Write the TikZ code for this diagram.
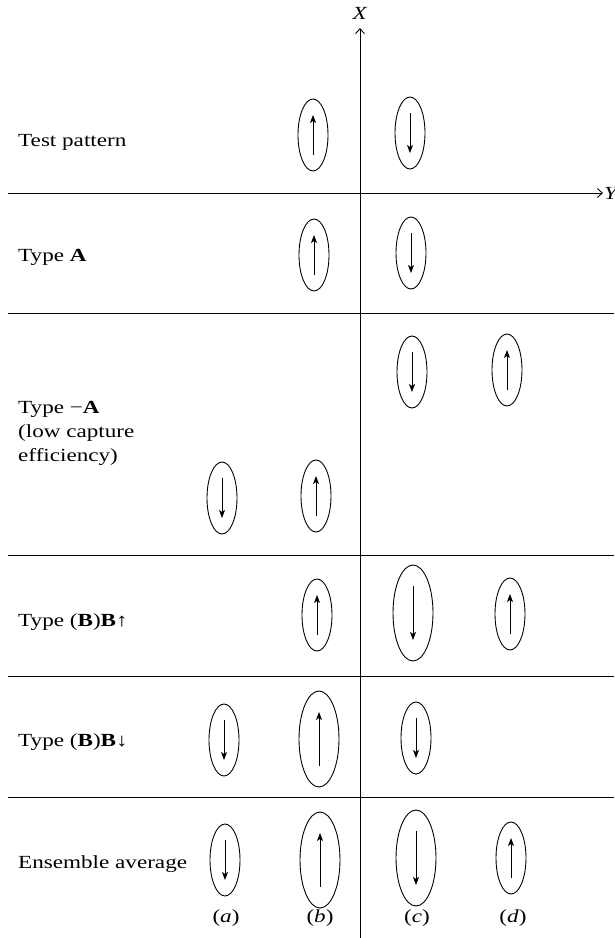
\documentclass[tikz,border=0pt]{standalone}
\usepackage{fontspec}
\setmainfont[FakeStretch=1.25]{Liberation Serif}
\usetikzlibrary{shapes.geometric,arrows.meta}
\begin{document}
\begin{tikzpicture}[x=1pt,y=-1pt,
  every node/.style={font=\fontsize{18.5}{24}\selectfont},
  sm/.style={ellipse,draw,line width=0.9pt,minimum width=30pt,minimum height=72pt,inner sep=0pt},
  lg/.style={ellipse,draw,line width=0.9pt,minimum width=40pt,minimum height=96pt,inner sep=0pt},
  vec/.style={line width=0.9pt,-{Stealth[length=8pt,width=6pt,inset=2pt]}},
  sep/.style={line width=0.9pt},
  axis/.style={line width=0.9pt,-{Straight Barb[length=5pt,width=9pt]}},
  lab/.style={anchor=base west,inner sep=0pt},
  col/.style={anchor=base,inner sep=0pt}]
\useasboundingbox (0,0) rectangle (614,938);

% axes
\coordinate (xb) at (360,938);
\coordinate (xt) at (360,28);
\coordinate (yl) at (8,193);
\coordinate (yr) at (603,193);
\draw[axis] (xb) -- (xt);
\draw[axis] (yl) -- (yr);
\node[inner sep=0pt] (X) at (360,13) {\textit{X}};
\node[anchor=west,inner sep=0pt] (Y) at (604,193) {\textit{Y}};

% separators
\foreach \yy/\nm in {313/s1,555/s2,676/s3,797/s4}{
  \coordinate (\nm l) at (8,\yy);
  \coordinate (\nm r) at (614,\yy);
  \draw[sep] (\nm l) -- (\nm r);
}

% row labels
\node[lab] (l1) at (18,146) {Test pattern};
\node[lab] (l2) at (18,261) {Type \textbf{A}};
\node[anchor=north west,inner sep=0pt,align=left] (l3) at (18,401) {Type −\textbf{A}\\(low capture\\efficiency)};
\node[lab] (l4) at (18,626) {Type (\textbf{B})\textbf{B↑}};
\node[lab] (l5) at (18,746) {Type (\textbf{B})\textbf{B↓}};
\node[lab] (l6) at (18,868) {Ensemble average};

% column labels
\node[col] (ca) at (226,922) {(\textit{a})};
\node[col] (cb) at (320,922) {(\textit{b})};
\node[col] (cc) at (417,922) {(\textit{c})};
\node[col] (cd) at (513,922) {(\textit{d})};

% ellipses
\newcommand{\spinup}[2]{\draw[vec] ([yshift=-#2]#1.center) -- ([yshift=#2]#1.center);}
\newcommand{\spindn}[2]{\draw[vec] ([yshift=#2]#1.center) -- ([yshift=-#2]#1.center);}

% Test pattern
\node[sm] (tb) at (313,135) {}; \spinup{tb}{20pt}
\node[sm] (tc) at (410,133) {}; \spindn{tc}{20pt}
% Type A
\node[sm] (ab) at (314,255) {}; \spinup{ab}{20pt}
\node[sm] (ac) at (411,253) {}; \spindn{ac}{20pt}
% Type -A
\node[sm] (mc) at (412,372) {}; \spindn{mc}{20pt}
\node[sm] (md) at (507,370) {}; \spinup{md}{20pt}
\node[sm] (ma) at (222,498) {}; \spindn{ma}{20pt}
\node[sm] (mb) at (316,496) {}; \spinup{mb}{20pt}
% (B)B up
\node[sm] (ub) at (317,615) {}; \spinup{ub}{20pt}
\node[lg] (uc) at (413,613) {}; \spindn{uc}{27pt}
\node[sm] (ud) at (510,614) {}; \spinup{ud}{20pt}
% (B)B down
\node[sm] (da) at (224,740) {}; \spindn{da}{20pt}
\node[lg] (db) at (319,739) {}; \spinup{db}{27pt}
\node[sm] (dc) at (416,738) {}; \spindn{dc}{20pt}
% Ensemble
\node[sm] (ea) at (225,860) {}; \spindn{ea}{20pt}
\node[lg] (eb) at (320,860) {}; \spinup{eb}{27pt}
\node[lg] (ec) at (416,858) {}; \spindn{ec}{27pt}
\node[sm] (ed) at (511,858) {}; \spinup{ed}{20pt}
\end{tikzpicture}
\end{document}
